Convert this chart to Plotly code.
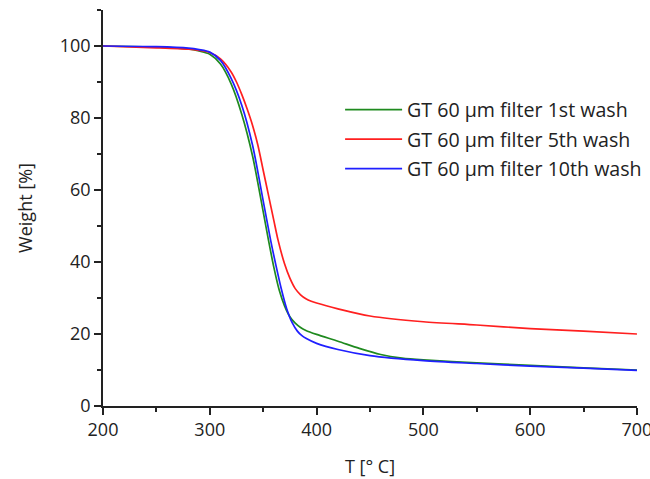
import plotly.graph_objects as go

# Green: GT 60 µm filter 1st wash
t_green = [200, 250, 280, 290, 300, 310, 320, 330, 340, 350, 355, 360, 365, 370, 375, 380, 385, 390, 400, 420, 440, 460, 480, 500, 550, 600, 650, 700]
w_green = [100, 99.7, 99.2, 98.6, 97.7, 95, 89.5, 81, 69.5, 54, 46, 38.5, 32.2, 27.8, 24.8, 23, 21.8, 21, 19.9, 18, 16, 14.3, 13.3, 12.8, 12, 11.3, 10.6, 10]

# Red: GT 60 µm filter 5th wash
t_red = [200, 250, 280, 290, 300, 310, 320, 325, 330, 335, 340, 345, 350, 355, 360, 364, 370, 375, 380, 385, 390, 395, 400, 420, 450, 500, 550, 600, 650, 700]
w_red = [100, 99.5, 99.1, 98.8, 98.2, 96.4, 92.8, 90, 86.5, 82.5, 78, 72.5, 65.5, 58.5, 51.5, 46, 39.5, 35.5, 32.6, 30.9, 29.8, 29.1, 28.6, 27, 25, 23.4, 22.5, 21.5, 20.8, 20]

# Blue: GT 60 µm filter 10th wash
t_blue = [200, 250, 280, 290, 300, 310, 320, 330, 340, 350, 357, 362, 367, 372, 377, 382, 386, 390, 400, 420, 450, 500, 550, 600, 650, 700]
w_blue = [100, 99.8, 99.4, 99, 98.3, 96, 91, 83.5, 72.5, 57, 46, 39, 32.5, 27, 23.2, 20.8, 19.6, 18.8, 17.4, 15.7, 14, 12.6, 11.8, 11.1, 10.5, 9.9]

names = ["GT 60 µm filter 1st wash", "GT 60 µm filter 5th wash", "GT 60 µm filter 10th wash"]
colors = ["#1f8a1f", "#ff1f1f", "#1f1fff"]

x_ticks = [200, 300, 400, 500, 600, 700]
y_ticks = [0, 20, 40, 60, 80, 100]

fig = go.Figure()
for i, (t, w) in enumerate([(t_green, w_green), (t_red, w_red), (t_blue, w_blue)]):
    fig.add_trace(go.Scatter(x=t, y=w, mode="lines", name=names[i],
                             line=dict(color=colors[i], width=1.7, shape="spline", smoothing=0.8),
                             legendgroup=f"g{i}"))

font_family = "Open Sans, sans-serif"
axis_common = dict(showline=True, linecolor="#222", linewidth=1.6, ticks="outside",
                   ticklen=7, tickwidth=1.6, tickcolor="#222", showgrid=False, zeroline=False,
                   ticklabeloverflow="allow",
                   tickfont=dict(size=18, color="#222", family=font_family))

fig.update_layout(
    width=650, height=479,
    margin=dict(l=103, r=13, t=10, b=73, autoexpand=False),
    paper_bgcolor="white", plot_bgcolor="white",
    font=dict(family=font_family, color="#222"),
    showlegend=True,
    legend=dict(x=0.444, y=0.797, xanchor="left", yanchor="top", bgcolor="rgba(0,0,0,0)",
                itemwidth=57,
                font=dict(size=19.6, color="#222", family=font_family), tracegroupgap=1),
    xaxis=dict(range=[200, 700.05], tickvals=x_ticks,
               minor=dict(ticks="outside", ticklen=4, tickwidth=1.6, tickcolor="#222", dtick=50, tick0=200),
               title=dict(text="T [° C]", font=dict(size=18, color="#222"), standoff=20),
               **axis_common),
    yaxis=dict(range=[0, 110], tickvals=y_ticks,
               minor=dict(ticks="outside", ticklen=4, tickwidth=1.6, tickcolor="#222", dtick=10, tick0=0),
               title=dict(text="Weight [%]", font=dict(size=18, color="#222"), standoff=22),
               **axis_common),
)

fig.write_html("out.html", config={"displayModeBar": False},
               post_script="document.body.style.margin='0';document.body.style.overflow='hidden';")
